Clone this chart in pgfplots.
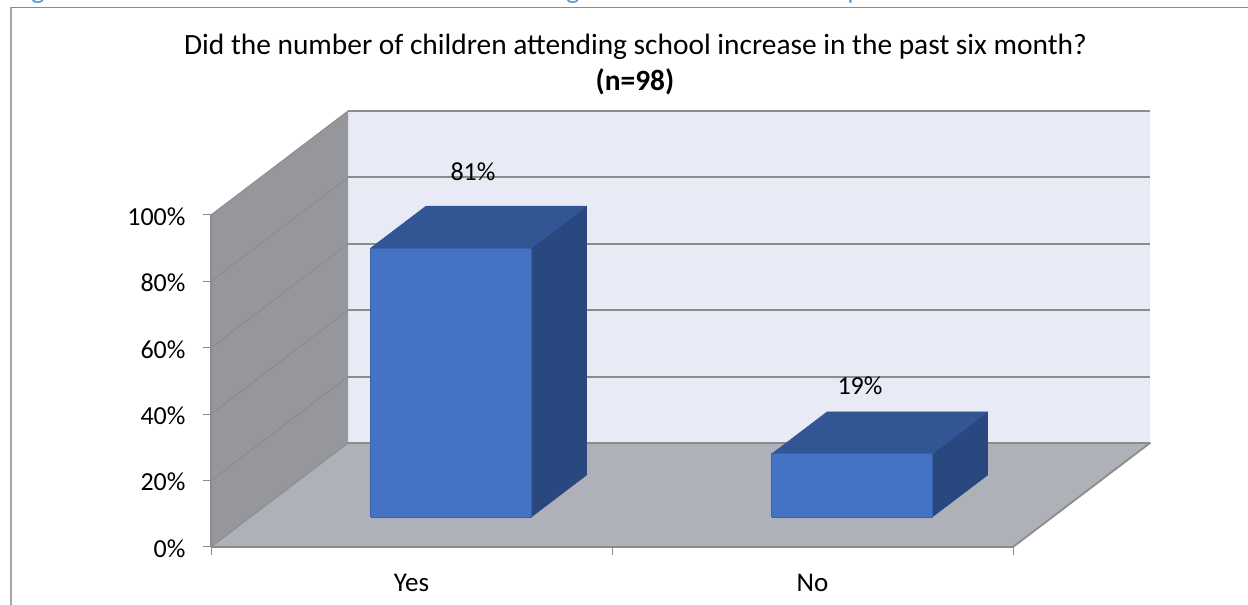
\documentclass[border=0pt]{standalone}
\usepackage{fontspec}
\setmainfont{Carlito}
\usepackage{pgfplots}
\pgfplotsset{compat=1.18}
\definecolor{backwall}{HTML}{E8EAF6}
\definecolor{sidewall}{HTML}{96979D}
\definecolor{floorcol}{HTML}{AFB1B8}
\definecolor{gridcol}{HTML}{8C8C8C}
\definecolor{barfront}{HTML}{4472C4}
\definecolor{bartop}{HTML}{325694}
\definecolor{barside}{HTML}{2A4880}
\definecolor{baredge}{HTML}{3A62A8}
\definecolor{captionblue}{HTML}{5B9BD5}
\begin{document}
\begin{tikzpicture}[x=1pt,y=1pt]
\useasboundingbox (0,0) rectangle (1248,605);
% outer chart frame, running off the right and bottom edges
\draw[black!35,line width=1.1pt] (11,0) -- (11,597.7);
\draw[gridcol,line width=1.1pt] (10.5,597.7) -- (1248,597.7);
% descenders of the caption line above the frame
\begin{scope}
\clip (0,600) rectangle (1248,605);
\node[captionblue,font=\fontsize{29}{32}\selectfont,anchor=base] at (38,606) {g};
\node[captionblue,font=\fontsize{29}{32}\selectfont,anchor=base] at (573,606) {g};
\node[captionblue,font=\fontsize{29}{32}\selectfont,anchor=base] at (855,606) {p};
\end{scope}
\node[font=\fontsize{29.4}{32}\selectfont,anchor=base] at (635.5,605-55) {Did the number of children attending school increase in the past six month?};
\node[font=\bfseries\fontsize{29.4}{32}\selectfont,anchor=base] at (635,605-90.5) {(n=98)};
\begin{axis}[
  at={(211pt,58pt)},anchor=origin,
  x={(401pt,0pt)},y={(137pt,104pt)},z={(0pt,3.32pt)},
  xmin=0,xmax=2,ymin=0,ymax=1,zmin=0,zmax=100,
  axis lines=none,
  clip=false,
  xtick=\empty,ytick=\empty,ztick=\empty,
  every axis plot/.append style={mark=none,line join=round},
]
% chart walls and floor
\addplot3[fill=backwall,draw=none] coordinates {(0,1,0) (2,1,0) (2,1,100) (0,1,100) (0,1,0)};
\addplot3[fill=sidewall,draw=none] coordinates {(0,0,0) (0,1,0) (0,1,100) (0,0,100) (0,0,0)};
\addplot3[fill=floorcol,draw=none] coordinates {(0,0,0) (2,0,0) (2,1,0) (0,1,0) (0,0,0)};
% grid lines on the back and side walls
\pgfplotsinvokeforeach{20,40,60,80,100}{
  \addplot3[gridcol,line width=2pt] coordinates {(0,1,#1) (2,1,#1)};
  \addplot3[gridcol,line width=1pt] coordinates {(0,0,#1) (0,1,#1)};
}
\addplot3[gridcol,line width=1.8pt] coordinates {(2,0,0) (2,1,0) (0,1,0)};
\addplot3[gridcol,line width=1pt] coordinates {(0,0,0) (0,1,0)};
\addplot3[gridcol,line width=1.8pt] coordinates {(0,0,0) (2,0,0)};
\addplot3[gridcol,line width=1.5pt] coordinates {(0,0,0) (0,0,100)};
% tick marks
\pgfplotsinvokeforeach{0,1,2}{
  \addplot3[gridcol,line width=1pt] coordinates {(#1,0,0) (#1,0,-2.5)};
}
\pgfplotsinvokeforeach{0,20,40,60,80,100}{
  \addplot3[gridcol,line width=1pt] coordinates {(0,0,#1) (-0.02,0,#1)};
}
% bar "Yes": 81
\addplot3[fill=barside,draw=barside,line width=0.6pt] coordinates {(0.70,0.288,0) (0.70,0.692,0) (0.70,0.692,81) (0.70,0.288,81) (0.70,0.288,0)};
\addplot3[fill=bartop,draw=bartop,line width=0.6pt] coordinates {(0.30,0.288,81) (0.70,0.288,81) (0.70,0.692,81) (0.30,0.692,81) (0.30,0.288,81)};
\addplot3[fill=barfront,draw=baredge,line width=1pt] coordinates {(0.30,0.288,0) (0.70,0.288,0) (0.70,0.288,81) (0.30,0.288,81) (0.30,0.288,0)};
% bar "No": 19
\addplot3[fill=barside,draw=barside,line width=0.6pt] coordinates {(1.70,0.288,0) (1.70,0.692,0) (1.70,0.692,19) (1.70,0.288,19) (1.70,0.288,0)};
\addplot3[fill=bartop,draw=bartop,line width=0.6pt] coordinates {(1.30,0.288,19) (1.70,0.288,19) (1.70,0.692,19) (1.30,0.692,19) (1.30,0.288,19)};
\addplot3[fill=barfront,draw=baredge,line width=1pt] coordinates {(1.30,0.288,0) (1.70,0.288,0) (1.70,0.288,19) (1.30,0.288,19) (1.30,0.288,0)};
% value labels
\node[font=\fontsize{26}{30}\selectfont] at (axis cs:0.486,0.49,81) [yshift=55pt] {81\%};
\node[font=\fontsize{26}{30}\selectfont] at (axis cs:1.451,0.49,19) [yshift=47pt] {19\%};
% axis labels
\node[font=\fontsize{27}{30}\selectfont] at (axis cs:0.5,0,0) [yshift=-36pt] {Yes};
\node[font=\fontsize{27}{30}\selectfont] at (axis cs:1.5,0,0) [yshift=-36pt] {No};
\pgfplotsinvokeforeach{0,20,40,60,80,100}{
  \node[font=\fontsize{26}{30}\selectfont,anchor=east] at (axis cs:0,0,#1) [xshift=-22pt,yshift=-1.5pt] {#1\%};
}
\end{axis}
\end{tikzpicture}
\end{document}
